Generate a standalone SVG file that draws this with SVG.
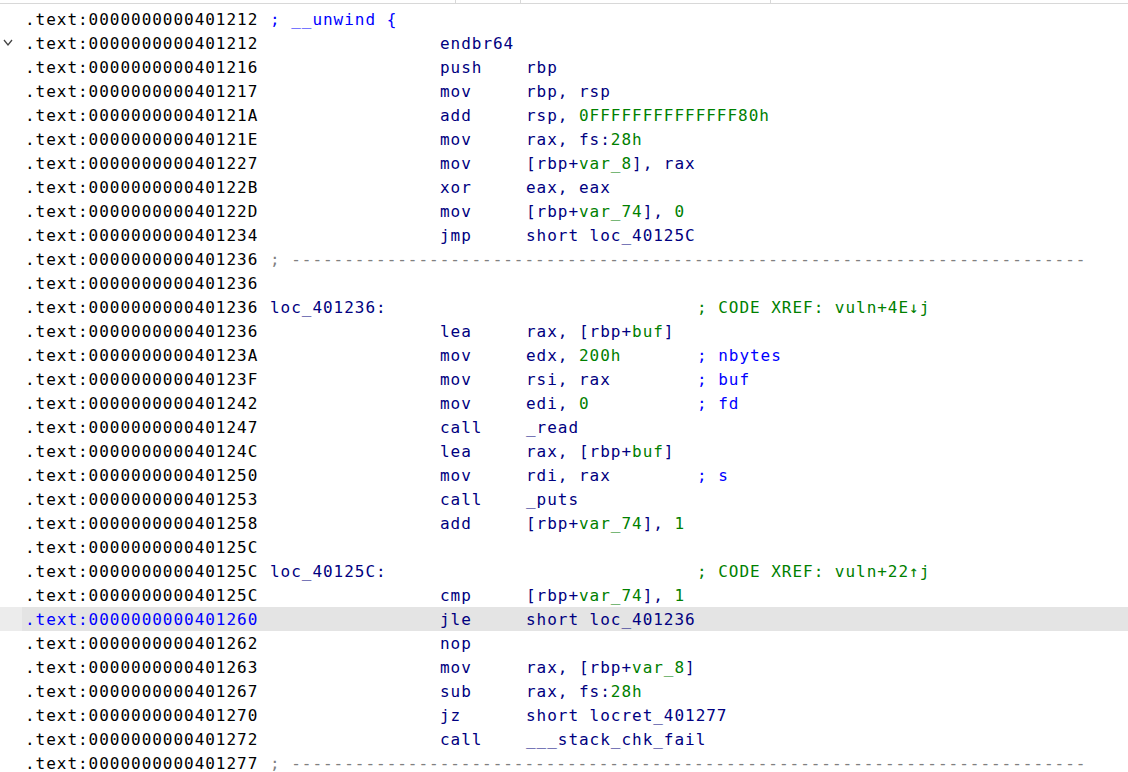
<svg xmlns="http://www.w3.org/2000/svg" width="1128" height="772" viewBox="0 0 1128 772">
<style>
text{font-family:"DejaVu Sans Mono","Liberation Mono",monospace;font-size:16px;letter-spacing:0.97px;white-space:pre}
.a{fill:#000}.n{fill:#000080}.g{fill:#008000}.b{fill:#0000ff}.d{fill:#808080}.h{fill:#0000ff}
</style>
<rect width="1128" height="772" fill="#fff"/>
<g stroke="#d8d8d8"><line x1="0" y1="3.5" x2="1128" y2="3.5"/><line x1="455.5" y1="0" x2="455.5" y2="3"/><line x1="520.5" y1="0" x2="520.5" y2="3"/><line x1="770.5" y1="0" x2="770.5" y2="3"/></g>
<rect x="0" y="607" width="22" height="24" fill="#ececec"/>
<rect x="22" y="607" width="1106" height="24" fill="#e4e4e4"/>
<path d="M4 40 L8 45 L12 40" fill="none" stroke="#444" stroke-width="1.3"/>
<g id="addr" class="a">
<text x="25" y="25">.text:0000000000401212</text>
<text x="25" y="49">.text:0000000000401212</text>
<text x="25" y="73">.text:0000000000401216</text>
<text x="25" y="97">.text:0000000000401217</text>
<text x="25" y="121">.text:000000000040121A</text>
<text x="25" y="145">.text:000000000040121E</text>
<text x="25" y="169">.text:0000000000401227</text>
<text x="25" y="193">.text:000000000040122B</text>
<text x="25" y="217">.text:000000000040122D</text>
<text x="25" y="241">.text:0000000000401234</text>
<text x="25" y="265">.text:0000000000401236</text>
<text x="25" y="289">.text:0000000000401236</text>
<text x="25" y="313">.text:0000000000401236</text>
<text x="25" y="337">.text:0000000000401236</text>
<text x="25" y="361">.text:000000000040123A</text>
<text x="25" y="385">.text:000000000040123F</text>
<text x="25" y="409">.text:0000000000401242</text>
<text x="25" y="433">.text:0000000000401247</text>
<text x="25" y="457">.text:000000000040124C</text>
<text x="25" y="481">.text:0000000000401250</text>
<text x="25" y="505">.text:0000000000401253</text>
<text x="25" y="529">.text:0000000000401258</text>
<text x="25" y="553">.text:000000000040125C</text>
<text x="25" y="577">.text:000000000040125C</text>
<text x="25" y="601">.text:000000000040125C</text>
<text x="25" y="625" class="h">.text:0000000000401260</text>
<text x="25" y="649">.text:0000000000401262</text>
<text x="25" y="673">.text:0000000000401263</text>
<text x="25" y="697">.text:0000000000401267</text>
<text x="25" y="721">.text:0000000000401270</text>
<text x="25" y="745">.text:0000000000401272</text>
<text x="25" y="769">.text:0000000000401277</text>
</g>
<g id="labels">
<text x="270" y="25" class="b">; __unwind {</text>
<text x="270" y="265" class="d">; ---------------------------------------------------------------------------</text>
<text x="270" y="313" class="n">loc_401236:</text>
<text x="270" y="577" class="n">loc_40125C:</text>
<text x="270" y="769" class="d">; ---------------------------------------------------------------------------</text>
<text x="697" y="313" class="g">; CODE XREF: vuln+4E↓j</text>
<text x="697" y="577" class="g">; CODE XREF: vuln+22↑j</text>
</g>
<g id="mnem" class="n">
<text x="440" y="49">endbr64</text>
<text x="440" y="73">push</text>
<text x="440" y="97">mov</text>
<text x="440" y="121">add</text>
<text x="440" y="145">mov</text>
<text x="440" y="169">mov</text>
<text x="440" y="193">xor</text>
<text x="440" y="217">mov</text>
<text x="440" y="241">jmp</text>
<text x="440" y="337">lea</text>
<text x="440" y="361">mov</text>
<text x="440" y="385">mov</text>
<text x="440" y="409">mov</text>
<text x="440" y="433">call</text>
<text x="440" y="457">lea</text>
<text x="440" y="481">mov</text>
<text x="440" y="505">call</text>
<text x="440" y="529">add</text>
<text x="440" y="601">cmp</text>
<text x="440" y="625">jle</text>
<text x="440" y="649">nop</text>
<text x="440" y="673">mov</text>
<text x="440" y="697">sub</text>
<text x="440" y="721">jz</text>
<text x="440" y="745">call</text>
</g>
<g id="ops" class="n">
<text x="526" y="73">rbp</text>
<text x="526" y="97">rbp, rsp</text>
<text x="526" y="121">rsp, <tspan class="g">0FFFFFFFFFFFFFF80h</tspan></text>
<text x="526" y="145">rax, fs:<tspan class="g">28h</tspan></text>
<text x="526" y="169">[rbp+<tspan class="g">var_8</tspan>], rax</text>
<text x="526" y="193">eax, eax</text>
<text x="526" y="217">[rbp+<tspan class="g">var_74</tspan>], <tspan class="g">0</tspan></text>
<text x="526" y="241">short loc_40125C</text>
<text x="526" y="337">rax, [rbp+<tspan class="g">buf</tspan>]</text>
<text x="526" y="361">edx, <tspan class="g">200h</tspan></text>
<text x="526" y="385">rsi, rax</text>
<text x="526" y="409">edi, <tspan class="g">0</tspan></text>
<text x="526" y="433">_read</text>
<text x="526" y="457">rax, [rbp+<tspan class="g">buf</tspan>]</text>
<text x="526" y="481">rdi, rax</text>
<text x="526" y="505">_puts</text>
<text x="526" y="529">[rbp+<tspan class="g">var_74</tspan>], <tspan class="g">1</tspan></text>
<text x="526" y="601">[rbp+<tspan class="g">var_74</tspan>], <tspan class="g">1</tspan></text>
<text x="526" y="625">short loc_401236</text>
<text x="526" y="673">rax, [rbp+<tspan class="g">var_8</tspan>]</text>
<text x="526" y="697">rax, fs:<tspan class="g">28h</tspan></text>
<text x="526" y="721">short locret_401277</text>
<text x="526" y="745">___stack_chk_fail</text>
</g>
<g id="comments" class="b">
<text x="697" y="361">; nbytes</text>
<text x="697" y="385">; buf</text>
<text x="697" y="409">; fd</text>
<text x="697" y="481">; s</text>
</g>
</svg>
